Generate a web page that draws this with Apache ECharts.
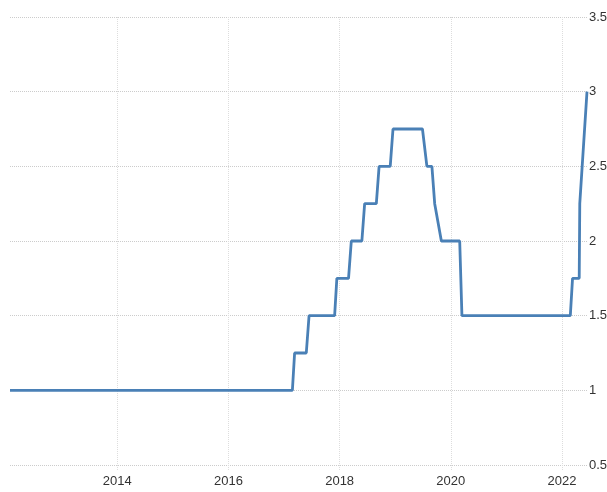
<!DOCTYPE html>
<html lang="en">
<head>
    <meta charset="UTF-8">
    <title>Rate</title>
    <script src="https://cdn.jsdelivr.net/npm/echarts@6/dist/echarts.min.js"></script>
    <style>
        html, body { margin: 0; padding: 0; background: #fff; }
        #chart { width: 607px; height: 492px; }
    </style>
</head>
<body>
<div id="chart"></div>
<script>
    // dates as decimal years
    var years = [2012.07, 2017.15, 2017.19, 2017.40, 2017.45, 2017.91, 2017.95, 2018.16, 2018.21,
        2018.40, 2018.45, 2018.66, 2018.71, 2018.91, 2018.96, 2019.49, 2019.57, 2019.66, 2019.71,
        2019.83, 2020.16, 2020.20, 2022.15, 2022.19, 2022.31, 2022.32, 2022.45];
    var rates = [1, 1, 1.25, 1.25, 1.5, 1.5, 1.75, 1.75, 2,
        2, 2.25, 2.25, 2.5, 2.5, 2.75, 2.75, 2.5, 2.5, 2.25,
        2, 2, 1.5, 1.5, 1.75, 1.75, 2.25, 3];
    var yearTicks = [2014, 2016, 2018, 2020, 2022];
    var rateTicks = [0.5, 1, 1.5, 2, 2.5, 3, 3.5];

    var font = '"Liberation Sans", Arial, sans-serif';
    var points = years.map(function (y, i) { return [y, rates[i]]; });

    var myChart = echarts.init(document.getElementById('chart'));
    myChart.setOption({
        animation: false,
        grid: { left: 10, right: 20, top: 17, bottom: 27, outerBoundsMode: 'none', containLabel: false },
        xAxis: {
            type: 'value',
            min: years[0],
            max: years[years.length - 1],
            axisLine: { show: false },
            axisTick: {
                show: true,
                customValues: yearTicks,
                length: 5,
                lineStyle: { color: '#ddd', type: 'dotted' }
            },
            axisLabel: {
                customValues: yearTicks,
                margin: 10,
                color: '#333',
                fontFamily: font,
                fontSize: 13,
                formatter: function (v) { return String(v); }
            },
            splitLine: { show: true, lineStyle: { color: '#ddd', type: 'dotted' } }
        },
        yAxis: {
            type: 'value',
            position: 'right',
            min: rateTicks[0],
            max: rateTicks[rateTicks.length - 1],
            interval: 0.5,
            axisLine: { show: false },
            axisTick: { show: false },
            axisLabel: {
                margin: 2,
                color: '#333',
                fontFamily: font,
                fontSize: 13
            },
            splitLine: { show: true, lineStyle: { color: '#ccc', type: 'dotted' } }
        },
        series: [{
            type: 'line',
            data: points,
            symbol: 'none',
            lineStyle: { color: '#4a80b6', width: 2.8 }
        }]
    });
</script>
</body>
</html>
